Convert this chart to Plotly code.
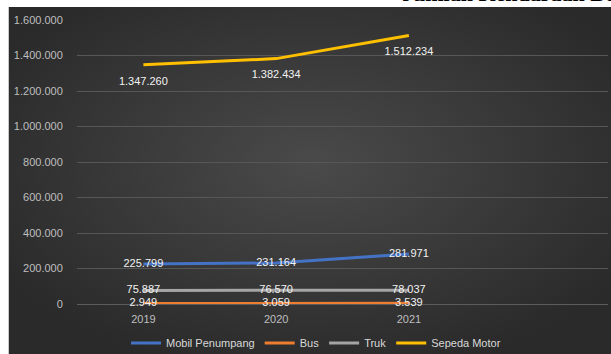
import base64
import plotly.graph_objects as go

# Jumlah kendaraan bermotor per jenis, 2019-2021
years = ["2019", "2020", "2021"]
mobil_penumpang = [225799, 231164, 281971]
bus = [2949, 3059, 3539]
truk = [75887, 76570, 78037]
sepeda_motor = [1347260, 1382434, 1512234]

y_ticks = [0, 200000, 400000, 600000, 800000, 1000000, 1200000, 1400000, 1600000]


def fmt(v):
    return f"{v:,}".replace(",", ".")


# name, values, colour, label position, invisible marker size (sets label offset)
series = [
    ("Mobil Penumpang", mobil_penumpang, "#4472C4", "middle center", 0),
    ("Bus", bus, "#ED7D31", "middle center", 0),
    ("Truk", truk, "#A5A5A5", "middle center", 0),
    ("Sepeda Motor", sepeda_motor, "#FFC000", "bottom center", 17),
]

fig = go.Figure()
for name, vals, color, pos, msize in series:
    fig.add_trace(go.Scatter(
        x=years, y=vals, name=name, mode="lines+markers+text",
        line=dict(color=color, width=3),
        marker=dict(size=msize, color="rgba(0,0,0,0)", line=dict(width=0)),
        text=[fmt(v) for v in vals], textposition=pos,
        textfont=dict(family="Liberation Sans, Arial", size=11, color="#f2f2f2"),
        cliponaxis=False,
    ))

W, H = 611, 354
L, R, T, B = 77, 3, 20, 50
pw, ph = W - L - R, H - T - B


def px(x):
    return (x - L) / pw


def py(y):
    return 1 - (y - T) / ph


# dark radial-gradient chart panel
svg = (
    '<svg xmlns="http://www.w3.org/2000/svg" width="610" height="350" preserveAspectRatio="none">'
    '<defs><radialGradient id="g" cx="50%" cy="45%" r="60%">'
    '<stop offset="0" stop-color="#4a4a4a"/><stop offset="1" stop-color="#2a2a2a"/>'
    '</radialGradient></defs><rect width="610" height="350" fill="url(#g)"/></svg>'
)
src = "data:image/svg+xml;base64," + base64.b64encode(svg.encode()).decode()

fig.add_layout_image(dict(
    source=src, xref="paper", yref="paper",
    x=px(8), y=py(7), sizex=px(618) - px(8), sizey=py(7) - py(357),
    sizing="stretch", layer="below", xanchor="left", yanchor="top",
))
fig.add_shape(type="line", xref="paper", yref="paper",
              x0=px(8.5), x1=px(8.5), y0=py(7), y1=py(354),
              line=dict(color="#c8c8c8", width=1))

fig.add_annotation(
    text="<b>Jumlah Kendaraan Bermotor</b>", xref="paper", yref="paper",
    x=px(400), y=py(8.5), xanchor="left", yanchor="bottom", showarrow=False,
    font=dict(family="Liberation Serif, Times New Roman", size=22, color="#000000"),
)

fig.update_layout(
    width=W, height=H,
    margin=dict(l=L, r=R, t=T, b=B),
    paper_bgcolor="white", plot_bgcolor="rgba(0,0,0,0)",
    separators=",.",
    showlegend=True,
    legend=dict(orientation="h", x=316 / W, xref="container", xanchor="center",
                y=(H - 343) / H, yref="container", yanchor="middle",
                font=dict(family="Liberation Sans, Arial", size=11, color="#d9d9d9"),
                bgcolor="rgba(0,0,0,0)", itemwidth=30),
    xaxis=dict(type="category", range=[-0.5, 3.5], showgrid=False, zeroline=False,
               showline=False, ticks="outside", ticklen=5, tickcolor="rgba(0,0,0,0)",
               tickfont=dict(family="Liberation Sans, Arial", size=11, color="#bfbfbf")),
    yaxis=dict(range=[0, 1600000], tickvals=y_ticks, ticktext=[fmt(v) for v in y_ticks],
               showgrid=True, gridcolor="#575757", gridwidth=1,
               zeroline=True, zerolinecolor="#5c5c5c", zerolinewidth=1,
               showline=False, ticks="outside", ticklen=11, tickcolor="rgba(0,0,0,0)",
               tickfont=dict(family="Liberation Sans, Arial", size=11, color="#bfbfbf")),
)

fig.write_html("out.html", config={"displayModeBar": False})
